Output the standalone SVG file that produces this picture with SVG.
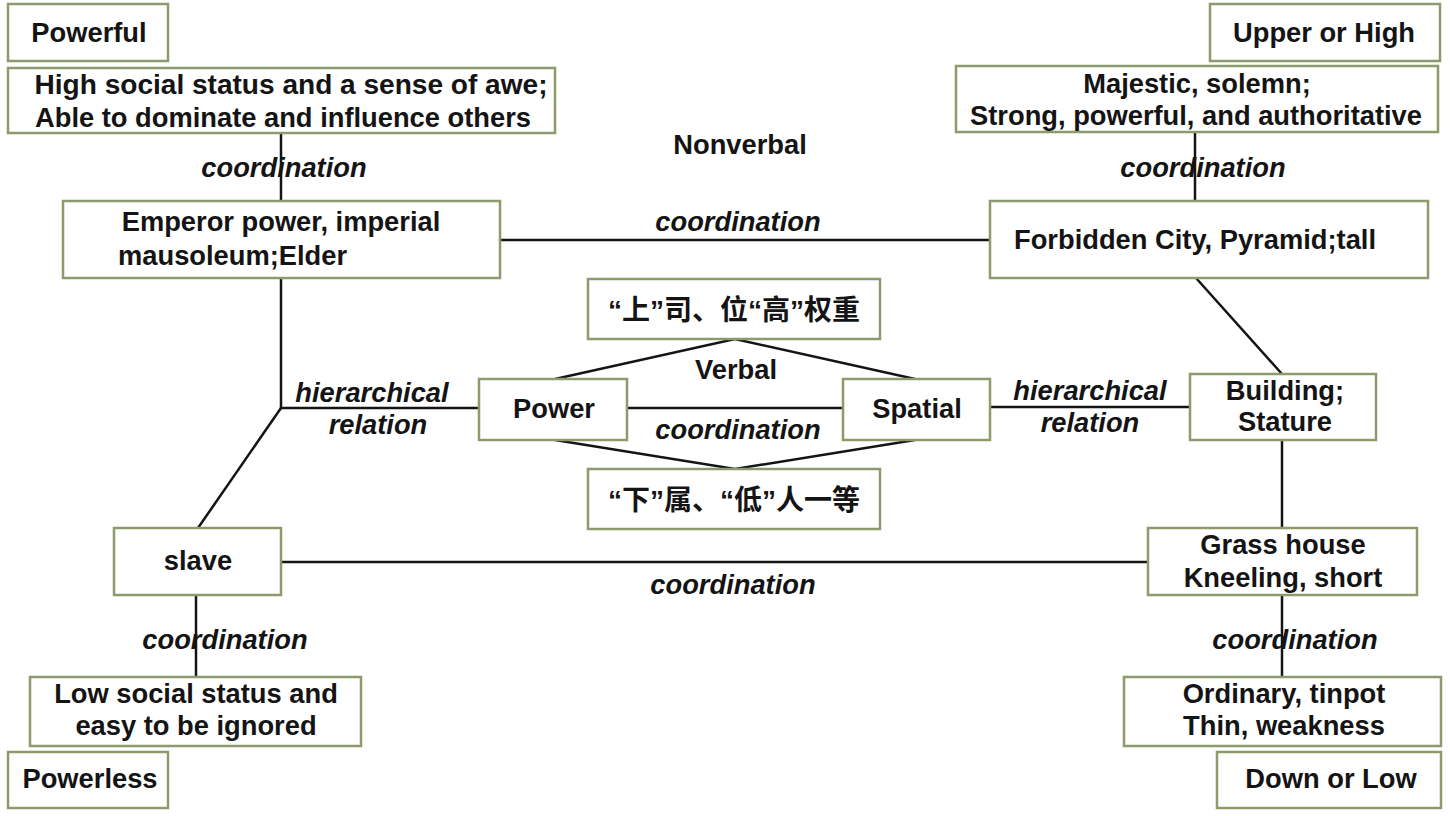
<svg xmlns="http://www.w3.org/2000/svg" width="1450" height="816" viewBox="0 0 1450 816">
<style>
.box{fill:#fff;stroke:#8d9b6c;stroke-width:2.5}
.t{font-family:"Liberation Sans",Arial,sans-serif;font-size:27.3px;font-weight:bold;fill:#141414;text-anchor:middle}
.c{font-family:"Liberation Sans","Noto Sans CJK SC",sans-serif;font-size:28px;font-weight:bold;fill:#141414;text-anchor:middle}
.l{font-family:"Liberation Sans",Arial,sans-serif;font-size:27.3px;font-weight:bold;font-style:italic;fill:#141414;text-anchor:middle}
.e{stroke:#141414;stroke-width:2.5;fill:none}
</style>
<rect width="1450" height="816" fill="#fff"/>
<g id="connectors">
<line class="e" x1="281" y1="133" x2="281" y2="201"/>
<line class="e" x1="1195" y1="132" x2="1195" y2="201"/>
<line class="e" x1="500" y1="240" x2="990" y2="240"/>
<polyline class="e" points="281,278 281,408 479,408"/>
<line class="e" x1="281" y1="408" x2="198" y2="528"/>
<polyline class="e" points="555,379 735,339 915,379"/>
<polyline class="e" points="555,440 735,469 915,440"/>
<line class="e" x1="627" y1="408" x2="843" y2="408"/>
<line class="e" x1="990" y1="407" x2="1190" y2="407"/>
<line class="e" x1="1196" y1="278" x2="1282" y2="374"/>
<line class="e" x1="1282" y1="440" x2="1282" y2="528"/>
<line class="e" x1="1282" y1="595" x2="1282" y2="677"/>
<line class="e" x1="281" y1="562" x2="1148" y2="562"/>
<line class="e" x1="196" y1="595" x2="196" y2="677"/>
<text class="l" x="284" y="177">coordination</text>
<text class="l" x="1203" y="177">coordination</text>
<text class="l" x="738" y="231">coordination</text>
<text class="l" x="738" y="439">coordination</text>
<text class="l" x="372" y="402">hierarchical</text>
<text class="l" x="378" y="434">relation</text>
<text class="l" x="1090" y="400">hierarchical</text>
<text class="l" x="1090" y="432">relation</text>
<text class="l" x="733" y="594">coordination</text>
<text class="l" x="225" y="649">coordination</text>
<text class="l" x="1295" y="649">coordination</text>
<text class="t" x="740" y="154">Nonverbal</text>
<text class="t" x="736" y="379">Verbal</text>
</g>
<g id="powerful"><rect class="box" x="8" y="4" width="160" height="57"/><text class="t" x="89" y="42">Powerful</text></g>
<g id="high-social"><rect class="box" x="8" y="68" width="547" height="65"/><text class="t" x="291" y="94" textLength="513" lengthAdjust="spacingAndGlyphs">High social status and a sense of awe;</text><text class="t" x="283" y="127">Able to dominate and influence others</text></g>
<g id="emperor"><rect class="box" x="63" y="201" width="437" height="77"/><text class="t" x="281" y="231">Emperor power, imperial</text><text class="t" x="118" y="265" style="text-anchor:start">mausoleum;Elder</text></g>
<g id="upper"><rect class="box" x="1210" y="4" width="230" height="57"/><text class="t" x="1324" y="42">Upper or High</text></g>
<g id="majestic"><rect class="box" x="956" y="66" width="482" height="66"/><text class="t" x="1197" y="93">Majestic, solemn;</text><text class="t" x="1196" y="125">Strong, powerful, and authoritative</text></g>
<g id="forbidden"><rect class="box" x="990" y="201" width="438" height="77"/><text class="t" x="1195" y="249">Forbidden City, Pyramid;tall</text></g>
<g id="shang"><rect class="box" x="588" y="279" width="292" height="60"/><text class="c" x="734" y="320">“上”司、位“高”权重</text></g>
<g id="power"><rect class="box" x="479" y="379" width="148" height="61"/><text class="t" x="554" y="418">Power</text></g>
<g id="spatial"><rect class="box" x="843" y="379" width="147" height="61"/><text class="t" x="917" y="418">Spatial</text></g>
<g id="xia"><rect class="box" x="588" y="469" width="292" height="60"/><text class="c" x="734" y="510">“下”属、“低”人一等</text></g>
<g id="building"><rect class="box" x="1190" y="374" width="186" height="66"/><text class="t" x="1285" y="400">Building;</text><text class="t" x="1285" y="431">Stature</text></g>
<g id="slave"><rect class="box" x="114" y="528" width="167" height="67"/><text class="t" x="198" y="570">slave</text></g>
<g id="grass"><rect class="box" x="1148" y="528" width="269" height="67"/><text class="t" x="1283" y="554">Grass house</text><text class="t" x="1283" y="587">Kneeling, short</text></g>
<g id="low-social"><rect class="box" x="30" y="677" width="331" height="69"/><text class="t" x="196" y="703">Low social status and</text><text class="t" x="196" y="735">easy to be ignored</text></g>
<g id="ordinary"><rect class="box" x="1124" y="677" width="317" height="69"/><text class="t" x="1284" y="703">Ordinary, tinpot</text><text class="t" x="1284" y="735">Thin, weakness</text></g>
<g id="powerless"><rect class="box" x="8" y="752" width="160" height="56"/><text class="t" x="90" y="788">Powerless</text></g>
<g id="down"><rect class="box" x="1217" y="752" width="224" height="56"/><text class="t" x="1331" y="788">Down or Low</text></g>
</svg>
